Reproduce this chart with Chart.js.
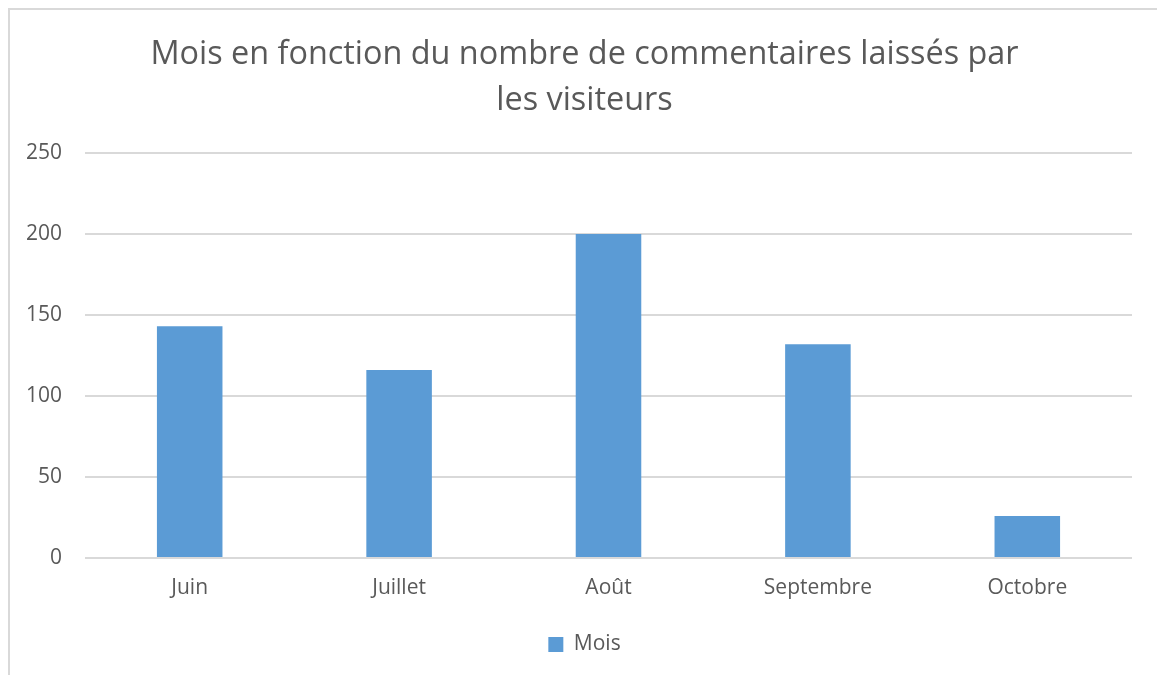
<!DOCTYPE html>
<html>
<head>
<meta charset="utf-8">
<script src="https://cdn.jsdelivr.net/npm/chart.js@4"></script>
<style>
  html, body { margin: 0; padding: 0; background: #fff; }
  #wrap { position: relative; width: 1157px; height: 675px; overflow: hidden; }
  #frame { position: absolute; left: 8px; top: 8px; width: 1200px; height: 700px;
           border-left: 2px solid #d9d9d9; border-top: 2px solid #d9d9d9; }
  canvas { position: absolute; left: 0; top: 0; }
</style>
</head>
<body>
<div id="wrap">
  <div id="frame"></div>
  <canvas id="myChart" width="1157" height="675"></canvas>
</div>
<script>
// data
const months = ['Juin', 'Juillet', 'Août', 'Septembre', 'Octobre'];
const comments = [143, 116, 200, 132, 26];
const yTicks = [0, 50, 100, 150, 200, 250];

const textColor = '#595959';
const gridColor = '#d9d9d9';
const fontFamily = '"Open Sans", "Noto Sans", sans-serif';

// the original centres title + legend a bit right of the canvas middle
const shiftBlocks = {
    id: 'shiftBlocks',
    afterLayout(chart) {
        if (chart.titleBlock) chart.titleBlock.left += 37;
        if (chart.legend) chart.legend.left += 37;
    }
};

const ctx = document.getElementById('myChart').getContext('2d');

const myChart = new Chart(ctx, {
    type: 'bar',
    data: {
        labels: months,
        datasets: [{
            label: 'Mois',
            data: comments,
            backgroundColor: '#5b9bd5',
            borderWidth: 0,
            categoryPercentage: 1,
            barPercentage: 0.313
        }]
    },
    options: {
        responsive: false,
        animation: false,
        layout: { padding: { left: 0, right: 25, top: 0, bottom: 10 } },
        plugins: {
            title: {
                display: true,
                text: ['Mois en fonction du nombre de commentaires laissés par', 'les visiteurs'],
                color: textColor,
                font: { family: fontFamily, size: 32.4, weight: 'normal', lineHeight: 1.42 },
                padding: { top: 32, bottom: 29 }
            },
            legend: {
                position: 'bottom',
                labels: {
                    color: textColor,
                    font: { family: fontFamily, size: 21 },
                    boxWidth: 15,
                    boxHeight: 15,
                    padding: 10
                }
            },
            tooltip: { enabled: false }
        },
        scales: {
            x: {
                afterFit: (scale) => { scale.height = 66; },
                grid: { display: false, drawTicks: false },
                border: { display: false },
                ticks: { color: textColor, font: { family: fontFamily, size: 21 }, padding: 17 }
            },
            y: {
                min: 0,
                max: 250,
                afterFit: (scale) => { scale.width = 85; },
                afterBuildTicks: (scale) => { scale.ticks = yTicks.map(v => ({ value: v })); },
                grid: { color: gridColor, lineWidth: 2, drawTicks: false },
                border: { display: false },
                ticks: { color: textColor, font: { family: fontFamily, size: 21 }, padding: 23 }
            }
        }
    },
    plugins: [shiftBlocks]
});
</script>
</body>
</html>
